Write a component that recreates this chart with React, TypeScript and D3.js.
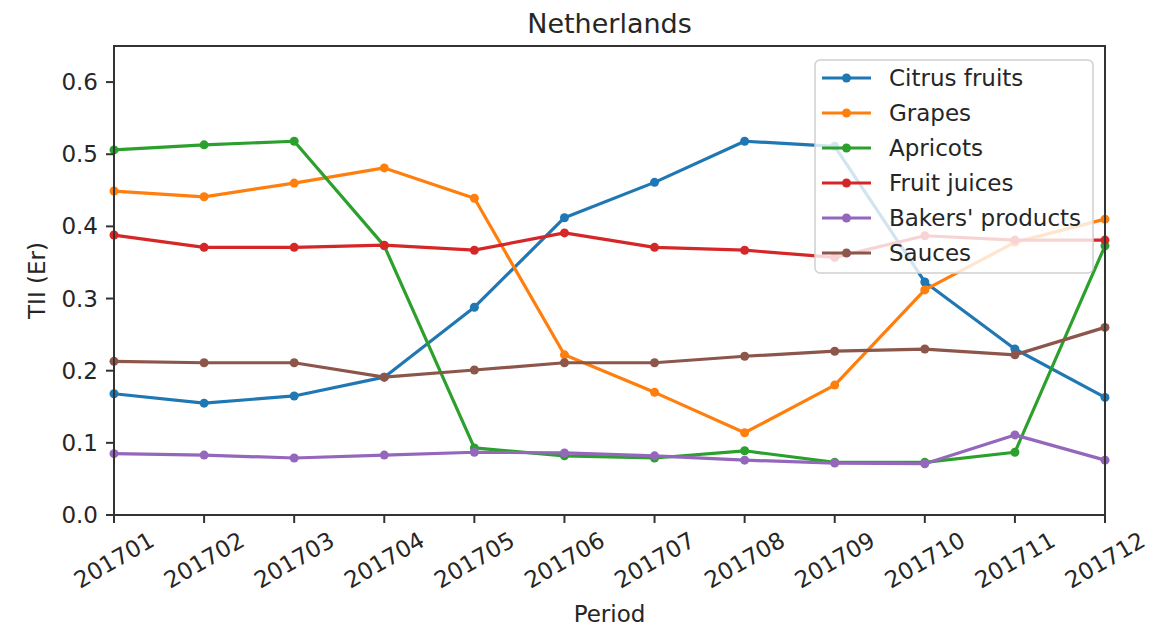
import * as d3 from 'd3';

const periods = ['201701', '201702', '201703', '201704', '201705', '201706', '201707', '201708', '201709', '201710', '201711', '201712'];

const citrusFruits = [0.168, 0.155, 0.165, 0.191, 0.288, 0.412, 0.461, 0.518, 0.511, 0.323, 0.230, 0.163];
const grapes = [0.449, 0.441, 0.460, 0.481, 0.439, 0.222, 0.170, 0.114, 0.180, 0.312, 0.378, 0.410];
const apricots = [0.506, 0.513, 0.518, 0.373, 0.093, 0.082, 0.079, 0.089, 0.073, 0.073, 0.087, 0.373];
const fruitJuices = [0.388, 0.371, 0.371, 0.374, 0.367, 0.391, 0.371, 0.367, 0.357, 0.387, 0.381, 0.381];
const bakersProducts = [0.085, 0.083, 0.079, 0.083, 0.087, 0.086, 0.082, 0.076, 0.072, 0.071, 0.111, 0.076];
const sauces = [0.213, 0.211, 0.211, 0.191, 0.201, 0.211, 0.211, 0.220, 0.227, 0.230, 0.222, 0.260];

const seriesNames = ['Citrus fruits', 'Grapes', 'Apricots', 'Fruit juices', "Bakers' products", 'Sauces'];
const seriesValues = [citrusFruits, grapes, apricots, fruitJuices, bakersProducts, sauces];
const colors = ['#1f77b4', '#ff7f0e', '#2ca02c', '#d62728', '#9467bd', '#8c564b'];
const yTicks = [0, 0.1, 0.2, 0.3, 0.4, 0.5, 0.6];

const W = 1165;
const H = 631;
const margin = { left: 114, right: 60, top: 46, bottom: 116 };
const font = '"DejaVu Sans", sans-serif';
const textColor = '#262626';
const fs = 23;

export default function App() {
    const x = d3.scalePoint<string>()
        .domain(periods)
        .range([margin.left, W - margin.right]);
    const y = d3.scaleLinear()
        .domain([0, 0.65])
        .range([H - margin.bottom, margin.top]);

    const line = d3.line<number>()
        .x((_, i) => x(periods[i])!)
        .y((d) => y(d));

    const x0 = margin.left;
    const x1 = W - margin.right;
    const y0 = H - margin.bottom;
    const y1 = margin.top;

    // legend placement
    const lg = { x: 815, y: 60, w: 278, h: 213, row: 35, first: 18 };

    return (
        <div style={{ position: 'absolute', left: 0, top: 0 }}>
            <svg width={W} height={H} style={{ display: 'block', background: '#fff' }} fontFamily={font}>
                {seriesValues.map((vals, s) => (
                    <g key={seriesNames[s]}>
                        <path d={line(vals) ?? ''} fill="none" stroke={colors[s]} strokeWidth={3.2} strokeLinejoin="round" />
                        {vals.map((v, i) => (
                            <circle key={i} cx={x(periods[i])} cy={y(v)} r={4.5} fill={colors[s]} />
                        ))}
                    </g>
                ))}

                {/* spines */}
                <rect x={x0} y={y1} width={x1 - x0} height={y0 - y1} fill="none" stroke="#333" strokeWidth={2} />

                {/* y axis */}
                {yTicks.map((t) => (
                    <g key={t} transform={`translate(0,${y(t)})`}>
                        <line x1={x0 - 8} x2={x0} stroke="#333" strokeWidth={2} />
                        <text x={x0 - 16} dy="0.35em" textAnchor="end" fontSize={fs} fill={textColor}>{t.toFixed(1)}</text>
                    </g>
                ))}

                {/* x axis */}
                {periods.map((p) => (
                    <g key={p} transform={`translate(${x(p)},0)`}>
                        <line y1={y0} y2={y0 + 8} stroke="#333" strokeWidth={2} />
                        <text transform={`translate(0,${y0 + 45}) rotate(-30)`} textAnchor="middle" dominantBaseline="central" fontSize={fs} fill={textColor}>{p}</text>
                    </g>
                ))}

                <text x={(x0 + x1) / 2} y={622} textAnchor="middle" fontSize={fs} fill={textColor}>Period</text>
                <text transform={`translate(45,${(y0 + y1) / 2}) rotate(-90)`} textAnchor="middle" fontSize={fs} fill={textColor}>TII (Er)</text>
                <text x={(x0 + x1) / 2} y={33} textAnchor="middle" fontSize={27} fill={textColor}>Netherlands</text>

                {/* legend */}
                <rect x={lg.x} y={lg.y} width={lg.w} height={lg.h} rx={5} fill="#fff" fillOpacity={0.8} stroke="#d0d0d0" strokeWidth={1.5} />
                {seriesNames.map((name, s) => {
                    const cy = lg.y + lg.first + s * lg.row;
                    return (
                        <g key={name}>
                            <line x1={lg.x + 7} x2={lg.x + 56} y1={cy} y2={cy} stroke={colors[s]} strokeWidth={3.2} />
                            <circle cx={lg.x + 31.5} cy={cy} r={4.5} fill={colors[s]} />
                            <text x={lg.x + 74} y={cy} dy="0.35em" fontSize={fs} fill={textColor}>{name}</text>
                        </g>
                    );
                })}
            </svg>
        </div>
    );
}
